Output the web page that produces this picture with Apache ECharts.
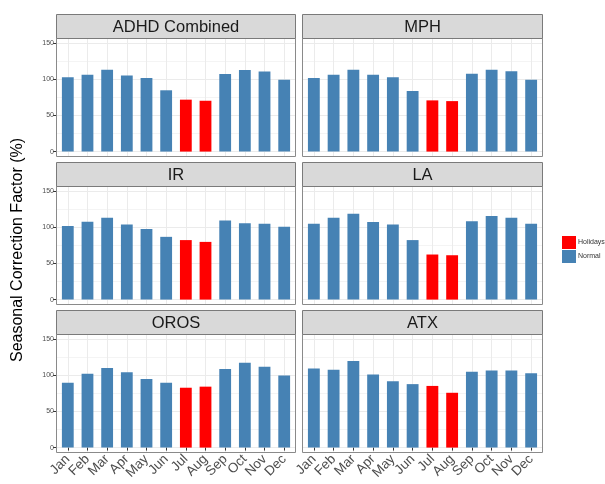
<!DOCTYPE html>
<html>
<head>
<meta charset="utf-8">
<script src="https://cdn.jsdelivr.net/npm/echarts@6/dist/echarts.min.js"></script>
<style>html,body{margin:0;padding:0;background:#fff}#c{width:605px;height:484px}</style>
</head>
<body>
<div id="c"></div>
<script>
// ---- data ----
const months = ['Jan','Feb','Mar','Apr','May','Jun','Jul','Aug','Sep','Oct','Nov','Dec'];
const panelNames = ['ADHD Combined','MPH','IR','LA','OROS','ATX'];
const holidayMonths = ['Jul','Aug'];
const adhdCombined = [103, 106.5, 113.5, 105.5, 102, 85, 72, 70.5, 107.5, 113, 111, 99.5];
const mph          = [102, 106.5, 113.5, 106.5, 103, 84, 71, 70, 108, 113.5, 111.5, 99.5];
const ir           = [102, 108, 113.5, 104, 98, 87, 82.5, 80, 109.5, 106, 105, 101];
const la           = [105, 113.5, 119, 107.5, 104, 82.5, 62.5, 61.5, 108.5, 116, 113.5, 105];
const oros         = [90, 102.5, 110.5, 104.5, 95, 90, 83, 84.5, 109, 117.5, 112, 100];
const atx          = [109.5, 108, 120, 101.5, 92, 88, 85.5, 76, 105, 107, 107, 103];
const yTicks = [0, 50, 100, 150];
const seriesNames = ['Holidays','Normal'];
const panelValues = [adhdCombined, mph, ir, la, oros, atx];

// ---- layout ----
const FONT = '"Liberation Sans", Arial, sans-serif';
const colL = [56, 302], colW = [240, 241];
const stripTop = [14, 162, 310], stripH = 24, panelH = 119;
const yMin = yTicks[0], yMax = yTicks[yTicks.length-1];
const yPad = (yMax - yMin) * 0.05;
const yTot = yMax - yMin + 2*yPad;

const grids = [], xAxes = [], yAxes = [], series = [], graphics = [];
panelNames.forEach((name, i) => {
  const r = Math.floor(i/2), c = i % 2;
  const L = colL[c], W = colW[c], PT = stripTop[r] + stripH, H = panelH;
  const band = W / 12.2;
  const k = H / yTot;
  grids.push({left: L + 0.1*band, top: PT, width: 12*band, height: H});
  grids.push({left: L, top: PT + yPad*k, width: W, height: (yMax-yMin)*k});
  const gi = 2*i;
  xAxes.push({
    type:'category', gridIndex: gi, data: months,
    axisLine:{show:false},
    axisTick:{show: r===2, alignWithLabel:true, length:3, lineStyle:{color:'#333'}},
    axisLabel:{show: r===2, rotate:45, fontSize:13.5, color:'#4d4d4d', margin:4, fontFamily:FONT, interval:0},
    splitLine:{show:true, alignWithLabel:true, interval:0, lineStyle:{color:'#ebebeb', width:1}}
  });
  yAxes.push({type:'value', gridIndex: gi, min: yMin - yPad, max: yMax + yPad, show:false});
  xAxes.push({type:'value', gridIndex: gi+1, show:false, min:0, max:1});
  yAxes.push({
    type:'value', gridIndex: gi+1, min: yMin, max: yMax, interval: 50,
    axisLine:{show:false},
    axisTick:{show: c===0, length:3, lineStyle:{color:'#333'}},
    axisLabel:{show: c===0, fontSize:7, color:'#4d4d4d', margin:2, fontFamily:FONT},
    splitLine:{show:true, lineStyle:{color:'#ebebeb', width:1}},
    minorTick:{show:false, splitNumber:2},
    minorSplitLine:{show:true, lineStyle:{color:'#f4f4f4', width:1}}
  });
  const vals = panelValues[i];
  series.push({
    name: seriesNames[0], type:'bar', xAxisIndex: gi, yAxisIndex: gi,
    data: months.map((m, j) => holidayMonths.includes(m) ? vals[j] : null),
    barWidth:'60%', barGap:'-100%', itemStyle:{color:'#ff0000'}, z:3
  });
  series.push({
    name: seriesNames[1], type:'bar', xAxisIndex: gi, yAxisIndex: gi,
    data: months.map((m, j) => holidayMonths.includes(m) ? null : vals[j]),
    barWidth:'60%', barGap:'-100%', itemStyle:{color:'#4682b4'}, z:3
  });
  graphics.push({type:'rect', shape:{x:L+0.5, y:PT+0.5, width:W-1, height:H-1}, style:{fill:null, stroke:'#8a8a8a', lineWidth:1}, z:10, silent:true});
  graphics.push({type:'rect', shape:{x:L+0.5, y:stripTop[r]+0.5, width:W-1, height:stripH}, style:{fill:'#d9d9d9', stroke:'#7a7a7a', lineWidth:1}, z:10, silent:true});
  graphics.push({type:'text', x: L + W/2, y: stripTop[r] + stripH/2 + 1, style:{text:name, font:'16.5px ' + FONT, fill:'#1a1a1a', align:'center', verticalAlign:'middle'}, z:11, silent:true});
});
graphics.push({type:'text', x:18, y:250, rotation:Math.PI/2, style:{text:'Seasonal Correction Factor (%)', font:'16px ' + FONT, fill:'#000', align:'center', verticalAlign:'middle'}, z:11, silent:true});

const chart = echarts.init(document.getElementById('c'), null, {renderer:'canvas'});
chart.setOption({
  backgroundColor:'#fff',
  animation:false,
  grid: grids, xAxis: xAxes, yAxis: yAxes, series: series,
  legend:{data: seriesNames, orient:'vertical', left:557, top:231, itemWidth:14, itemHeight:13, itemGap:1, icon:'rect', selectedMode:false,
    textStyle:{fontSize:7, color:'#333', fontFamily:FONT, padding:[0,0,0,-3]}},
  graphic: graphics
});
</script>
</body>
</html>
